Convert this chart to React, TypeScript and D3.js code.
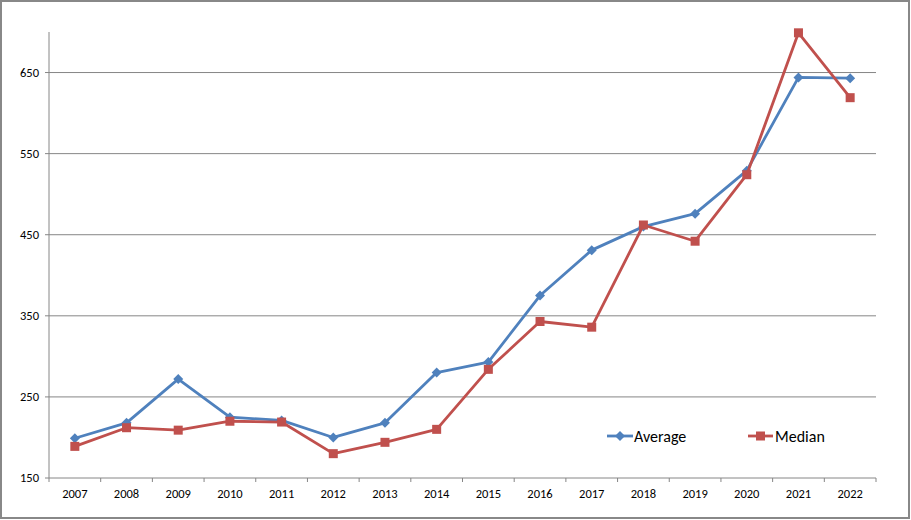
import React from "react";
import * as d3 from "d3";

const years = ["2007","2008","2009","2010","2011","2012","2013","2014","2015","2016","2017","2018","2019","2020","2021","2022"];
const averageValues = [199, 218, 272, 225, 221, 200, 218, 280, 293, 375, 431, 460, 476, 529, 644, 643];
const medianValues = [189, 212, 209, 220, 219, 180, 194, 210, 284, 343, 336, 462, 442, 524, 699, 619];
const yTicks = [150, 250, 350, 450, 550, 650];

const W = 911, H = 520;
const left = 49, right = 876, top = 32, bottom = 478;
const BLUE = "#4F81BD", RED = "#C0504D", GRID = "#868686";
const FONT = "Carlito, Calibri, Lato, 'Liberation Sans', Arial, sans-serif";

export default function App() {
  const x = d3.scaleBand<string>().domain(years).range([left, right]);
  const y = d3.scaleLinear().domain([150, 700]).range([bottom, top]);
  const cx = (d: string) => (x(d) as number) + x.bandwidth() / 2;
  const line = d3.line<number>().x((_, i) => cx(years[i])).y((v) => y(v));
  const sq = 9;
  const dia = 5;
  const boundaries = years.map((d) => x(d) as number).concat([right]);

  return (
    <svg width={W} height={H} style={{ position: "absolute", left: 0, top: 0, background: "#fff" }}>
      <rect x={1} y={1} width={W - 3} height={H - 3} fill="#fff" stroke="#888" strokeWidth={2} />
      {yTicks.filter((t) => t !== 150).map((t) => (
        <line key={t} x1={left} x2={right} y1={y(t)} y2={y(t)} stroke={GRID} strokeWidth={1} />
      ))}
      <line x1={left} x2={left} y1={top} y2={bottom} stroke={GRID} strokeWidth={1} />
      <line x1={left} x2={right} y1={bottom} y2={bottom} stroke={GRID} strokeWidth={1} />
      {yTicks.map((t) => (
        <g key={t}>
          <line x1={left - 4} x2={left} y1={y(t)} y2={y(t)} stroke={GRID} />
          <text x={left - 10} y={y(t)} dy="0.35em" textAnchor="end" fontSize={12.5} fontFamily={FONT} fill="#000">{t}</text>
        </g>
      ))}
      {boundaries.map((b, i) => (
        <line key={i} x1={b} x2={b} y1={bottom} y2={bottom + 4} stroke={GRID} />
      ))}
      {years.map((d) => (
        <text key={d} x={cx(d)} y={bottom + 16} dy="0.35em" textAnchor="middle" fontSize={12.5} fontFamily={FONT} fill="#000">{d}</text>
      ))}
      <path d={line(averageValues) || ""} fill="none" stroke={BLUE} strokeWidth={2.8} strokeLinejoin="round" />
      {averageValues.map((v, i) => (
        <path key={i} d={`M${cx(years[i])},${y(v) - dia}L${cx(years[i]) + dia},${y(v)}L${cx(years[i])},${y(v) + dia}L${cx(years[i]) - dia},${y(v)}Z`} fill={BLUE} />
      ))}
      <path d={line(medianValues) || ""} fill="none" stroke={RED} strokeWidth={2.8} strokeLinejoin="round" />
      {medianValues.map((v, i) => (
        <rect key={i} x={cx(years[i]) - sq / 2} y={y(v) - sq / 2} width={sq} height={sq} fill={RED} />
      ))}
      <g>
        <line x1={607} x2={633} y1={436} y2={436} stroke={BLUE} strokeWidth={2.8} />
        <path d={`M620,${436 - dia}L${620 + dia},436L620,${436 + dia}L${620 - dia},436Z`} fill={BLUE} />
        <text x={634} y={436} dy="0.35em" fontSize={16} fontFamily={FONT} fill="#000">Average</text>
        <line x1={748} x2={773} y1={436} y2={436} stroke={RED} strokeWidth={2.8} />
        <rect x={760.5 - sq / 2} y={436 - sq / 2} width={sq} height={sq} fill={RED} />
        <text x={775} y={436} dy="0.35em" fontSize={16} fontFamily={FONT} fill="#000">Median</text>
      </g>
    </svg>
  );
}
